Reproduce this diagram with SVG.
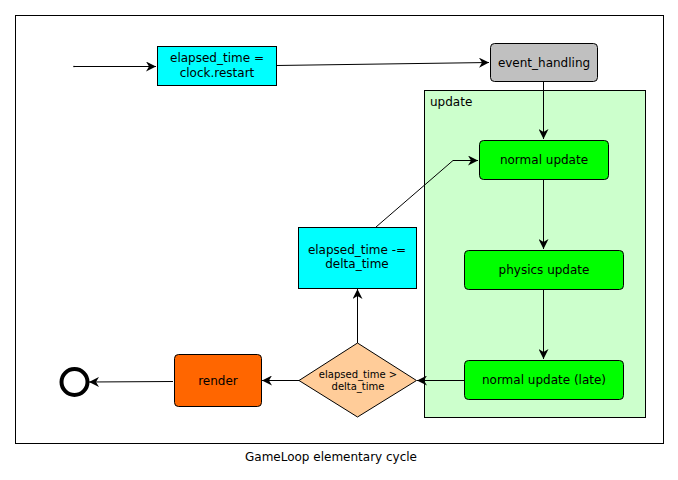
<svg xmlns="http://www.w3.org/2000/svg" width="678" height="480" viewBox="0 0 678 480">
<style>
text{font-family:"DejaVu Sans",sans-serif;font-size:12px;fill:#000;text-anchor:middle}
.small{font-size:10px}
.box{stroke:#000;stroke-width:1}
.edge{fill:none;stroke:#000;stroke-width:1}
</style>
<defs>
<marker id="arr" viewBox="0 0 10 10" refX="10" refY="5" markerWidth="10" markerHeight="10" markerUnits="userSpaceOnUse" orient="auto">
<path d="M0,0 L10,5 L0,10 L3,5 z" fill="#000"/>
</marker>
</defs>
<rect width="678" height="480" fill="#fff"/>
<rect x="15.5" y="15.5" width="648" height="428" fill="none" stroke="#000"/>
<text x="331" y="461">GameLoop elementary cycle</text>

<g id="update">
<rect class="box" x="424.5" y="90.5" width="221" height="327" fill="#ccffcc"/>
<text x="430" y="106" style="text-anchor:start">update</text>
</g>

<g id="connectors">
<path class="edge" d="M74,66.5 H156" marker-end="url(#arr)"/>
<path class="edge" d="M276,65.5 L489,62.5" marker-end="url(#arr)"/>
<path class="edge" d="M543.5,81 V139" marker-end="url(#arr)"/>
<path class="edge" d="M543.5,179 V249" marker-end="url(#arr)"/>
<path class="edge" d="M543.5,289 V359" marker-end="url(#arr)"/>
<path class="edge" d="M465,380.5 H417" marker-end="url(#arr)"/>
<path class="edge" d="M357.5,343 V289" marker-end="url(#arr)"/>
<path class="edge" d="M376,227 L453,160.5 H478" marker-end="url(#arr)"/>
<path class="edge" d="M299,380.5 H262" marker-end="url(#arr)"/>
<path class="edge" d="M173,381.5 L89,382" marker-end="url(#arr)"/>
</g>

<g id="start"><circle cx="74" cy="66.5" r="0.8" fill="#000"/></g>

<g id="clock_restart">
<rect class="box" x="157.5" y="46.5" width="119" height="39" fill="#00ffff"/>
<text x="217" y="62">elapsed_time =</text>
<text x="217" y="77">clock.restart</text>
</g>

<g id="event_handling">
<rect class="box" x="490.5" y="43.5" width="107" height="38" rx="4" fill="#c0c0c0"/>
<text x="544" y="67">event_handling</text>
</g>

<g id="normal_update">
<rect class="box" x="479.5" y="140.5" width="129" height="39" rx="4" fill="#00ff00"/>
<text x="544" y="164">normal update</text>
</g>

<g id="physics_update">
<rect class="box" x="464.5" y="250.5" width="159" height="39" rx="4" fill="#00ff00"/>
<text x="544" y="274">physics update</text>
</g>

<g id="normal_update_late">
<rect class="box" x="464.5" y="360.5" width="159" height="39" rx="4" fill="#00ff00"/>
<text x="544" y="384">normal update (late)</text>
</g>

<g id="decision">
<path class="box" d="M357.5,343 L416.5,380.5 L357.5,417 L299,380.5 Z" fill="#ffcc99"/>
<text class="small" x="358" y="378">elapsed_time &gt;</text>
<text class="small" x="358" y="390">delta_time</text>
</g>

<g id="subtract">
<rect class="box" x="298.5" y="227.5" width="118" height="61" fill="#00ffff"/>
<text x="357" y="254">elapsed_time -=</text>
<text x="357" y="268">delta_time</text>
</g>

<g id="render">
<rect class="box" x="174.5" y="354.5" width="87" height="52" rx="4" fill="#ff6600"/>
<text x="218" y="385">render</text>
</g>

<g id="end"><circle cx="74.5" cy="382" r="13" fill="none" stroke="#000" stroke-width="4"/></g>
</svg>
